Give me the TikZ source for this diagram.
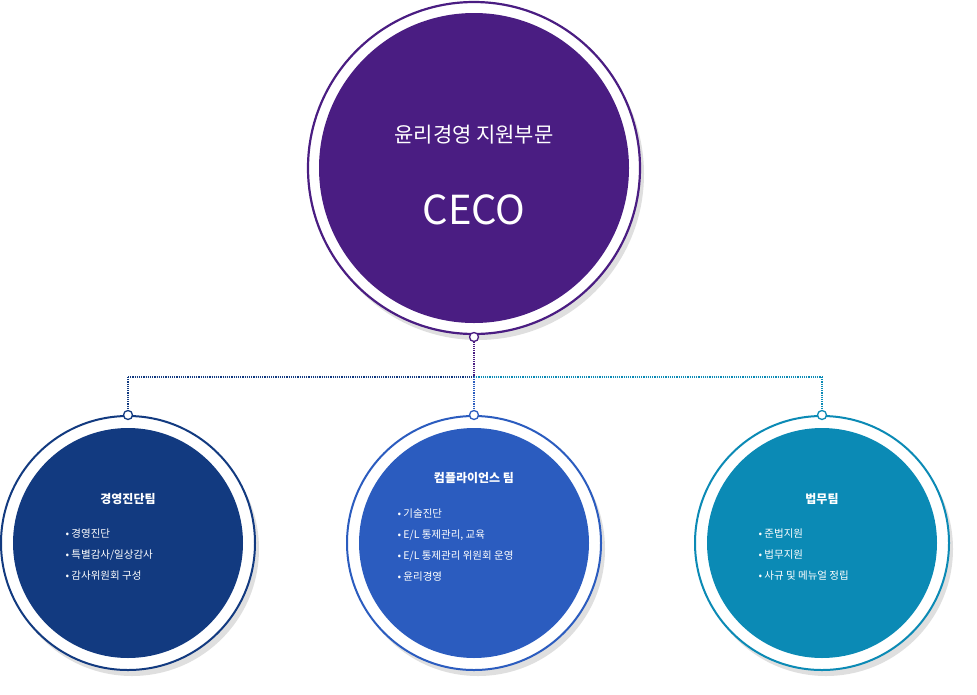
\documentclass[tikz,border=0pt]{standalone}
\usepackage{fontspec}
\newfontfamily\kr{Noto Sans CJK KR}
\definecolor{cpur}{RGB}{74,29,130}
\definecolor{cnavy}{RGB}{18,58,128}
\definecolor{cblue}{RGB}{43,92,191}
\definecolor{cteal}{RGB}{11,138,181}
\begin{document}
\begin{tikzpicture}[x=1pt,y=-1pt,
  dotline/.style={densely dotted,line width=1.2pt,color=#1},
  pin/.style={circle,draw=#1,fill=white,line width=1.3pt,inner sep=0pt,minimum size=9pt},
  title/.style={text=white,font=\kr\bfseries\fontsize{12}{14}\selectfont},
  items/.style={text=white,font=\kr\fontsize{10.5}{21}\selectfont,align=left}]
\useasboundingbox (0,0) rectangle (977,694);
% top
\fill[gray!25] (478,174) circle (166);
\draw[line width=2.2pt,color=cpur,fill=white] (474,168) circle (166);
\fill[cpur] (474,168) circle (155);
\node[text=white,font=\kr\fontsize{21}{24}\selectfont] (t1) at (474,135) {윤리경영 지원부문};
\node[text=white,font=\kr\fontsize{40}{44}\selectfont] (t2) at (474,210) {CECO};
% connectors
\coordinate (jt) at (474,377);
\coordinate (jl) at (128,377);
\coordinate (jr) at (822,377);
\draw[dotline=cpur] (474,337) -- (jt);
\draw[dotline=cnavy] (jl) -- (jt);
\draw[dotline=cteal] (jt) -- (jr);
\draw[dotline=cnavy] (jl) -- (128,415);
\draw[dotline=cblue] (jt) -- (474,415);
\draw[dotline=cteal] (jr) -- (822,415);
\node[pin=cpur] (p0) at (474,337) {};
% bottom circles
\foreach \cx/\cc in {128/cnavy, 474/cblue, 822/cteal}{
  \fill[gray!25] (\cx+4,549) circle (127);
  \draw[line width=2pt,color=\cc,fill=white] (\cx,543) circle (127);
  \fill[\cc] (\cx,543) circle (115);
  \node[pin=\cc] at (\cx,415) {};
}
\node[title] (a) at (128,499) {경영진단팀};
\node[items,anchor=north west] (a1) at (62,525) {• 경영진단\\• 특별감사/일상감사\\• 감사위원회 구성};
\node[title] (b) at (474,478) {컴플라이언스 팀};
\node[items,anchor=north west] (b1) at (394,505) {• 기술진단\\• E/L 통제관리, 교육\\• E/L 통제관리 위원회 운영\\• 윤리경영};
\node[title] (c) at (822,499) {법무팀};
\node[items,anchor=north west] (c1) at (755,525) {• 준법지원\\• 법무지원\\• 사규 및 메뉴얼 정립};
\end{tikzpicture}
\end{document}
